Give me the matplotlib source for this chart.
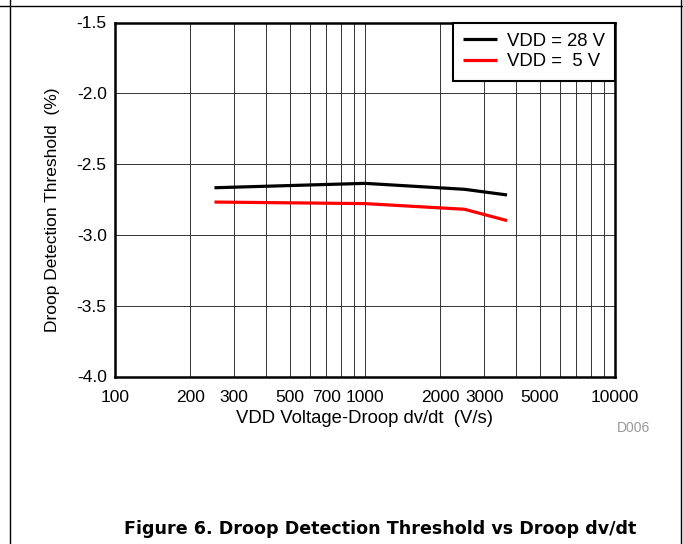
import matplotlib
matplotlib.use("Agg")
import matplotlib.pyplot as plt
from matplotlib.lines import Line2D
from matplotlib.ticker import FixedLocator, FixedFormatter, NullFormatter

plt.rcParams['font.family'] = ['Liberation Sans', 'DejaVu Sans']
plt.rcParams['axes.unicode_minus'] = False

# Data
dvdt = [250, 1000, 2500, 3700]
vdd28 = [-2.667, -2.636, -2.678, -2.718]
vdd5 = [-2.768, -2.779, -2.819, -2.899]
series_labels = ['VDD = 28 V', 'VDD =  5 V']
x_ticks = [100, 200, 300, 500, 700, 1000, 2000, 3000, 5000, 10000]
y_ticks = [-4.0, -3.5, -3.0, -2.5, -2.0, -1.5]

W, H = 683, 544
fig = plt.figure(figsize=(W / 100, H / 100), dpi=100)
ax = fig.add_axes([115 / W, 1 - 376.5 / H, 500 / W, (376.5 - 22.5) / H])

ax.set_xscale('log')
ax.set_xlim(100, 10000)
ax.set_ylim(-4.0, -1.5)

ax.plot(dvdt, vdd28, color='black', lw=2.3, label=series_labels[0], solid_capstyle='butt')
ax.plot(dvdt, vdd5, color='#ff0000', lw=2.3, label=series_labels[1], solid_capstyle='butt')

ax.xaxis.set_major_locator(FixedLocator(x_ticks))
ax.xaxis.set_major_formatter(FixedFormatter([str(t) for t in x_ticks]))
minor = [m * d for d in (100, 1000) for m in range(2, 10)]
ax.xaxis.set_minor_locator(FixedLocator(minor))
ax.xaxis.set_minor_formatter(NullFormatter())
ax.set_yticks(y_ticks)
ax.set_yticklabels([f'{v:.1f}' for v in y_ticks])

ax.grid(True, which='both', axis='x', color='#333333', lw=0.7)
ax.grid(True, which='major', axis='y', color='#333333', lw=0.7)
ax.tick_params(which='both', length=0, labelsize=12.5, colors='black')
ax.tick_params(axis='x', pad=10)
ax.tick_params(axis='y', pad=6)
for s in ax.spines.values():
    s.set_linewidth(1.8)
    s.set_color('black')

ax.set_xlabel('VDD Voltage-Droop dv/dt  (V/s)', fontsize=13.3, labelpad=3)
fig.text(53 / W, 1 - 210 / H, 'Droop Detection Threshold  (%)', fontsize=12.5,
         rotation=90, ha='center', va='center')

leg = ax.legend(loc='upper right', borderaxespad=0, fancybox=False, fontsize=13.3,
                handlelength=1.8, handletextpad=0.55, labelspacing=0.2,
                borderpad=0.55, framealpha=1)
leg.get_frame().set_edgecolor('black')
leg.get_frame().set_linewidth(1.5)

fig.text(634 / W, 1 - 428 / H, 'D006', fontsize=10, color='#999999', ha='center', va='center')
fig.text(380 / W, 1 - 529 / H, 'Figure 6. Droop Detection Threshold vs Droop dv/dt',
         fontsize=12.6, fontweight='bold', family=['DejaVu Sans'], ha='center', va='center')

# page border lines
fig.add_artist(Line2D([0, 1], [1 - 6 / H, 1 - 6 / H], color='black', lw=1.0, transform=fig.transFigure))
fig.add_artist(Line2D([9.5 / W, 9.5 / W], [0, 1], color='black', lw=1.0, transform=fig.transFigure))
fig.add_artist(Line2D([681 / W, 681 / W], [0, 1], color='black', lw=1.0, transform=fig.transFigure))

fig.savefig('out.png', dpi=100)
